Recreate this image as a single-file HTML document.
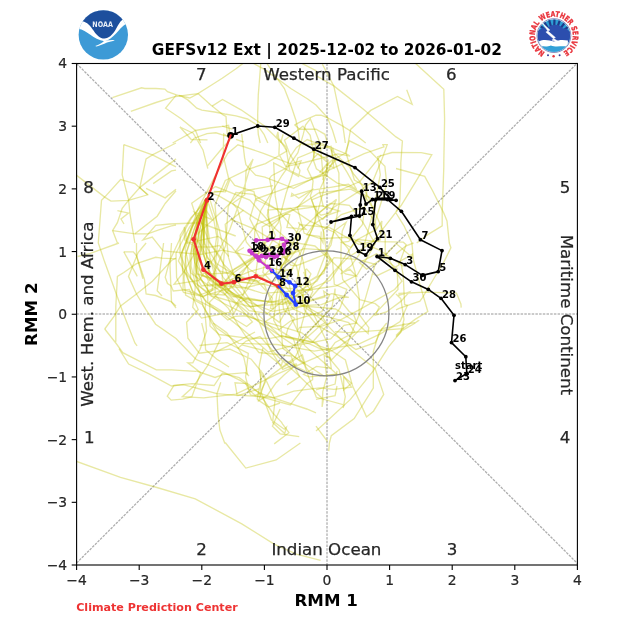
<!DOCTYPE html>
<html><head><meta charset="utf-8"><title>GEFSv12 Ext RMM</title>
<style>html,body{margin:0;padding:0;background:#fff;}svg{display:block;}</style>
</head><body><svg width="643" height="628" viewBox="0 0 643 628"><line x1="76.6" y1="563.0" x2="577.4" y2="63.0" stroke="#aeaeae" stroke-width="1.3" stroke-dasharray="2.6 1.1" fill="none"/>
<line x1="76.6" y1="63.6" x2="577.4" y2="563.4" stroke="#aeaeae" stroke-width="1.3" stroke-dasharray="2.6 1.1" fill="none"/>
<line x1="76.6" y1="314.0" x2="577.4" y2="314.0" stroke="#8a8a8a" stroke-width="0.9" stroke-dasharray="2.5 1.2" fill="none"/>
<line x1="327.0" y1="63.5" x2="327.0" y2="565.0" stroke="#8a8a8a" stroke-width="0.9" stroke-dasharray="2.5 1.2" fill="none"/>
<defs><clipPath id="ax"><rect x="76.6" y="63.5" width="500.79999999999995" height="501.5"/></clipPath></defs>
<g clip-path="url(#ax)" stroke="#bfbf00" stroke-opacity="0.36" stroke-width="1.35" fill="none"><path d="M112.3,97.6 L141.6,87.8 L144.8,88.5 L156.0,88.5 L164.9,89.1 L167.5,91.7 L176.4,94.8 L181.5,96.1 L187.8,99.9 L196.8,108.2 L201.9,110.1 L214.6,112.0 L224.8,114.0 L236.0,115.9 L247.5,119.0 L253.8,122.9 L257.7,125.4 L264.0,134.3 L267.8,143.0"/><path d="M130.8,111.4 L156.0,102.5 L173.8,96.8 L187.8,94.8 L198.0,93.6 L212.0,84.7 L222.2,78.3 L236.0,68.7 L243.6,63.0"/><path d="M176.4,94.8 L165.6,108.2 L181.5,119.0 L195.5,130.5 L200.6,143.0"/><path d="M178.9,95.5 L189.8,98.0 L198.0,93.6"/><path d="M198.0,93.6 L210.8,105.0 L223.5,115.2 L226.0,116.5 L226.7,126.7 L227.3,134.0"/><path d="M172.6,143.0 L195.5,130.5 L209.5,128.0 L224.8,126.1 L228.6,125.4 L229.9,134.0"/><path d="M190.4,143.0 L194.2,138.2 L207.0,133.7 L215.9,132.8 L224.8,135.6 L229.0,136.3"/><path d="M222.2,126.1 L232.4,129.2"/><path d="M260.8,63.0 L259.6,78.3 L258.3,94.8 L257.7,114.0 L257.7,125.4 L258.3,134.3 L260.2,143.0"/><path d="M252.6,63.0 L266.6,70.6 L278.0,79.6 L284.4,88.5 L290.8,105.0 L295.9,120.3 L298.4,131.8 L299.7,143.0"/><path d="M266.6,63.0 L276.8,78.3 L290.8,88.5 L307.3,98.7 L316.0,105.0 L327.5,117.8 L341.5,125.4 L351.7,131.8 L365.7,143.0"/><path d="M294.6,124.8 L301.0,121.6 L316.0,115.2 L321.1,115.2 L327.5,117.8 L332.6,130.5 L336.4,143.0"/><path d="M294.6,124.8 L299.7,129.2 L316.0,129.2 L324.9,134.3 L327.5,143.0"/><path d="M236.0,139.4 L243.6,142.0"/><path d="M283.1,134.3 L280.6,143.0"/><path d="M301.0,63.0 L316.0,70.6 L316.0,75.7 L333.8,85.9 L363.1,108.9 L396.0,136.9 L402.4,141.0 L400.8,163.0 L400.8,174.8 L400.0,198.7 L399.2,206.7 L396.0,211.5"/><path d="M322.4,64.3 L333.8,85.9 L338.9,110.1 L342.8,125.4 L345.3,143.0"/><path d="M415.1,63.0 L443.8,89.3 L444.6,118.7 L443.8,163.0 L443.8,166.9 L443.0,190.8 L442.2,211.5 L442.2,225.8 L427.8,234.6 L416.7,243.0"/><path d="M396.0,168.5 L424.7,176.4 L432.6,190.8 L443.8,213.1 L447.0,221.0 L449.3,243.0 L450.9,247.8 L443.8,262.1 L434.2,278.0 L422.3,297.9 L419.9,301.1 L399.2,308.3 L396.0,309.9"/><path d="M396.0,213.0 L404.0,225.8 L411.9,243.0 L413.5,260.5 L419.9,284.4 L427.8,311.5 L415.1,319.4 L402.4,329.0 L396.0,335.4"/><path d="M396.0,254.1 L405.6,246.2 L413.5,243.0"/><path d="M396.0,294.0 L400.8,298.7 L404.0,319.4 L400.8,332.2 L396.0,337.0"/><path d="M415.4,323.0 L402.0,330.6 L388.6,346.9 L373.3,370.8 L350.4,399.4 L323.6,424.3 L316.0,431.0"/><path d="M403.9,323.0 L403.0,328.7 L348.5,332.6 L335.1,331.6"/><path d="M386.7,323.0 L379.0,332.6 L373.3,351.7 L373.3,370.8 L373.3,388.0 L354.2,418.5 L331.3,435.7 L329.4,443.0 L328.7,451.1"/><path d="M343.7,376.5 L351.4,383.2 L343.7,389.9 L343.7,376.5"/><path d="M316.0,389.9 L335.1,384.1 L337.0,370.8"/><path d="M316.0,399.4 L335.1,395.6 L337.0,386.0"/><path d="M316.0,426.2 L327.5,441.5"/><path d="M196.0,359.3 L213.2,367.0 L226.6,373.6 L240.0,380.3 L251.4,388.0 L261.0,393.7 L283.9,401.3 L306.8,409.0 L316.0,412.8"/><path d="M196.0,370.8 L215.1,377.5 L222.8,374.6 L245.7,372.7 L249.0,376.0"/><path d="M196.0,388.0 L217.0,393.7 L238.0,395.6 L249.5,391.8 L259.0,388.9"/><path d="M220.8,382.2 L217.0,393.7 L218.0,414.7 L219.9,430.0 L224.7,443.0 L225.6,443.0 L245.8,468.1 L276.2,460.0 L300.4,443.0"/><path d="M280.1,409.0 L272.4,426.2 L280.1,433.8 L299.2,436.7"/><path d="M201.7,323.0 L204.6,334.5 L205.6,349.8 L217.0,359.3 L229.0,367.0"/><path d="M213.2,323.0 L226.6,332.6 L238.0,347.8 L243.8,357.4 L247.6,374.6"/><path d="M214.2,352.6 L240.0,340.2 L255.0,332.0"/><path d="M257.1,399.4 L268.6,407.1 L280.0,403.0"/><path d="M262.9,347.8 L259.0,367.0 L261.0,380.3 L257.1,399.4"/><path d="M123.8,144.6 L152.4,154.9 L176.0,166.9"/><path d="M123.8,144.6 L122.2,174.8 L128.5,199.5 L130.1,214.7 L134.9,243.0"/><path d="M176.0,143.0 L152.4,154.9 L146.1,158.9 L139.7,187.6 L128.5,200.3"/><path d="M76.0,174.8 L104.7,197.1 L111.0,201.1 L128.5,200.3 L147.7,194.8 L139.7,187.6"/><path d="M104.7,197.1 L120.6,179.6 L134.9,183.6 L147.7,194.8"/><path d="M104.7,197.1 L101.5,200.3 L98.3,243.0 L104.7,262.1 L115.8,292.4 L123.8,314.7 L134.9,343.0 L137.1,345.9"/><path d="M176.0,158.9 L139.7,187.6"/><path d="M153.2,183.6 L171.5,170.9 L176.0,170.1"/><path d="M146.1,188.4 L165.2,197.9 L176.0,189.2"/><path d="M128.5,200.3 L122.2,208.3 L117.4,222.6 L112.6,230.6 L117.4,243.0"/><path d="M117.4,210.7 L128.5,213.1 L121.0,219.0 L124.0,224.0"/><path d="M112.6,230.6 L134.9,233.8 L157.2,216.2 L165.2,203.5 L176.0,190.8"/><path d="M134.9,233.8 L147.7,233.8 L158.8,229.8 L171.5,225.8 L176.0,225.0"/><path d="M77.6,256.5 L90.3,253.4 L119.0,243.0"/><path d="M115.8,341.7 L115.8,306.7 L117.4,276.4 L123.8,272.5 L136.5,263.7 L155.6,257.3 L162.0,258.1 L176.0,258.9"/><path d="M123.8,251.8 L133.3,251.8 L136.5,255.7 L144.5,279.6 L146.1,294.0 L155.6,295.5 L171.5,301.9 L176.0,306.0"/><path d="M123.8,251.8 L137.3,276.4"/><path d="M136.5,243.0 L136.5,255.7 L142.9,278.8"/><path d="M146.1,243.0 L138.1,252.6 L128.5,276.4 L136.5,294.0 L146.1,309.9 L155.6,324.2 L176.0,338.5 L196.0,359.2"/><path d="M104.7,329.0 L114.2,316.2 L120.6,305.9 L136.5,294.0 L152.4,281.2 L171.5,260.5 L176.0,258.0"/><path d="M104.7,329.0 L115.8,343.0 L122.8,352.6 L156.3,369.8 L171.5,369.8 L196.0,371.3"/><path d="M119.0,348.7 L128.6,364.0 L148.6,373.6 L171.5,386.0 L183.0,384.7 L196.0,387.9"/><path d="M163.6,243.0 L157.2,290.8 L162.0,296.0"/><path d="M171.5,243.0 L170.0,265.3 L171.5,301.9 L176.0,308.0"/><path d="M76.0,461.2 L120.5,477.4 L156.9,487.5 L195.3,498.8 L241.8,523.9 L274.1,544.1 L296.4,554.2 L320.6,560.3"/><path d="M206.3,201.0 L198.8,224.4 L194.4,248.7 L204.3,272.6 L218.1,285.9 L246.6,299.8 L286.3,302.3 L312.4,299.7 L331.8,293.6 L348.8,297.4 L339.9,297.3 L321.3,304.6 L301.2,305.7 L284.1,284.6 L269.9,269.5 L246.4,242.3 L237.6,209.1 L232.7,203.3 L244.7,194.9 L246.1,170.2 L253.1,159.1 L249.8,168.4 L240.6,199.5 L229.7,229.8 L218.3,251.7 L199.0,280.5 L174.0,284.4 L183.7,272.0 L193.4,255.4 L196.6,234.9 L221.2,212.1 L241.3,191.5 L273.1,185.6"/><path d="M206.2,198.0 L190.8,229.9 L180.8,254.6 L183.3,275.7 L183.0,289.5 L199.4,295.1 L209.2,291.6 L233.0,281.4 L264.3,284.7 L272.8,305.2 L273.3,308.8 L270.5,308.5 L272.4,298.0 L256.6,280.3 L237.0,277.4 L224.3,265.1 L209.0,241.9 L201.1,220.8 L194.5,212.4 L212.2,219.7 L204.9,208.5 L197.3,217.7 L195.0,236.3 L216.0,271.0 L215.0,295.3 L228.4,308.3 L238.1,324.8 L245.5,335.9 L258.9,352.5 L291.1,356.0 L295.9,369.4 L299.6,376.5 L287.1,384.9"/><path d="M205.7,201.0 L204.0,229.3 L203.4,253.6 L209.2,272.0 L229.7,290.3 L249.1,310.6 L267.7,313.4 L286.9,297.4 L317.0,281.0 L330.6,258.9 L326.3,250.1 L303.9,248.6 L284.0,257.3 L296.2,265.1 L300.7,283.4 L304.5,310.0 L318.5,327.2 L300.5,343.3 L268.2,352.1 L244.7,331.1 L220.7,311.8 L195.8,299.3 L184.5,270.9 L178.4,260.9 L187.2,239.4 L198.2,208.6 L214.1,177.9 L227.7,153.5 L237.9,144.8 L263.5,153.3 L290.7,163.8 L301.1,160.8 L297.8,168.5"/><path d="M207.9,199.7 L197.0,224.7 L194.0,250.2 L199.3,276.3 L211.4,295.7 L248.8,306.5 L305.5,302.4 L324.9,297.0 L323.7,291.2 L329.6,294.9 L321.8,311.7 L290.5,321.0 L278.9,329.8 L263.0,323.2 L277.5,313.6 L303.8,305.8 L338.9,266.0 L355.4,240.7 L375.5,229.8 L374.1,219.8 L363.7,207.3 L341.3,214.6 L323.5,230.1 L323.0,242.8 L319.5,236.3 L306.8,234.6 L313.7,224.2 L327.3,215.4 L339.4,211.0 L322.0,205.8 L291.9,210.1 L256.4,224.4 L235.2,252.0"/><path d="M206.9,202.6 L206.8,220.5 L206.8,241.3 L206.6,259.5 L208.6,268.8 L210.5,273.9 L228.0,273.0 L258.3,253.7 L284.7,242.1 L292.2,251.1 L280.1,268.8 L281.3,285.7 L288.6,301.6 L294.3,306.7 L287.5,277.1 L292.4,269.1 L250.3,277.8 L242.9,294.5 L234.1,296.4 L221.1,281.3 L208.0,277.0 L197.0,273.9 L192.9,251.2 L199.1,238.0 L197.0,219.6 L191.7,203.3 L215.5,186.5 L249.8,200.1 L275.3,228.8 L297.4,248.1 L302.8,259.6 L306.4,279.7 L303.7,271.8"/><path d="M208.2,199.6 L201.3,223.6 L196.0,245.7 L197.1,272.7 L210.3,294.0 L224.2,295.0 L227.7,291.4 L239.2,273.8 L254.3,259.4 L254.7,231.9 L260.8,210.4 L281.9,175.5 L297.9,152.6 L303.3,134.2 L305.5,125.0 L310.3,118.8 L320.2,143.6 L324.2,188.3 L313.7,226.2 L294.0,265.7 L280.4,286.3 L283.7,309.9 L294.7,318.5 L287.9,328.6 L285.8,336.4 L312.6,341.9 L329.1,323.3 L340.1,308.0 L346.8,289.5 L334.3,284.4 L332.5,260.4 L320.6,248.8 L321.2,231.4"/><path d="M207.8,201.2 L201.8,231.5 L200.4,259.2 L209.2,283.2 L225.2,294.6 L239.1,306.7 L252.4,321.8 L246.6,326.5 L232.9,318.0 L207.8,302.7 L207.4,283.1 L213.2,275.0 L225.6,245.7 L228.2,206.8 L235.9,192.5 L253.2,194.4 L277.3,209.7 L296.3,231.5 L298.3,249.4 L287.9,255.3 L282.4,274.7 L276.7,294.3 L273.7,320.4 L279.4,330.4 L293.3,338.6 L300.3,359.9 L304.1,364.2 L282.8,348.3 L278.7,301.5 L286.4,259.3 L278.4,243.8 L254.5,229.1 L230.4,219.2"/><path d="M205.2,199.2 L204.1,225.5 L203.2,251.6 L209.0,273.8 L225.7,288.2 L244.1,300.5 L272.6,311.3 L301.1,306.0 L321.2,307.5 L335.6,309.0 L356.3,322.8 L368.1,333.5 L368.8,327.7 L359.1,314.2 L359.3,298.7 L355.0,271.9 L348.2,248.7 L335.2,232.7 L310.3,221.4 L290.5,208.1 L267.3,210.2 L268.2,210.0 L270.5,238.8 L250.1,255.8 L222.9,250.2 L200.2,254.5 L163.1,250.8 L152.2,237.0 L143.0,239.8 L155.7,225.4 L169.7,224.0 L200.0,222.8 L235.7,236.0"/><path d="M205.1,199.8 L207.3,231.5 L209.9,257.4 L215.9,280.2 L235.3,301.9 L268.2,329.6 L294.0,356.6 L323.5,375.9 L336.4,373.8 L327.7,366.1 L304.7,345.7 L291.4,318.1 L275.9,274.3 L281.1,227.5 L275.2,195.9 L273.7,162.8 L289.0,170.9 L298.6,176.5 L300.0,170.3 L289.9,154.4 L284.5,140.2 L302.9,126.1 L310.2,135.4 L313.3,151.5 L328.2,160.2 L325.6,175.1 L307.1,178.5 L289.7,170.7 L285.9,146.9 L264.2,125.8 L241.0,109.8 L222.5,99.5 L212.1,106.1"/><path d="M208.7,198.4 L199.6,230.2 L195.4,254.5 L193.8,272.5 L201.6,286.0 L223.4,283.2 L234.3,269.4 L265.0,252.4 L290.3,241.9 L314.9,246.0 L345.5,274.0 L356.3,276.2 L349.8,269.2 L340.7,274.0 L351.1,265.8 L363.0,249.2 L367.5,233.0 L376.1,201.1 L349.8,186.9 L337.3,183.1 L316.4,168.8 L313.5,160.6 L313.8,149.5 L314.0,157.4 L307.5,169.2 L313.1,180.9 L312.2,189.3 L297.4,207.6 L304.2,233.3 L320.4,238.6 L348.4,237.3 L379.5,250.1 L403.6,266.5"/><path d="M205.4,201.4 L197.1,229.0 L190.0,255.2 L190.6,278.5 L205.0,300.6 L227.8,319.9 L235.1,316.3 L245.0,315.8 L278.8,325.9 L301.5,332.7 L317.6,345.4 L329.9,349.5 L345.4,360.0 L352.6,386.1 L366.5,416.9 L373.5,411.2 L383.7,394.4 L375.1,368.6 L351.6,350.2 L322.1,319.9 L287.3,293.9 L249.1,269.0 L231.6,246.8 L218.3,236.4 L186.9,243.2 L185.0,228.5 L184.3,226.9 L184.3,234.6 L184.7,239.9 L195.2,246.8 L211.2,247.0 L219.6,245.5 L228.9,256.5"/><path d="M208.4,199.1 L192.8,226.1 L185.1,249.1 L190.9,273.0 L209.3,286.0 L231.9,283.8 L262.9,293.4 L311.8,289.5 L336.4,285.8 L357.2,275.1 L375.1,243.7 L362.8,222.2 L349.4,205.4 L342.4,204.5 L330.0,203.5 L315.7,215.5 L316.8,214.9 L322.8,219.3 L333.1,207.8 L355.8,193.4 L372.5,182.0 L382.3,158.2 L387.2,144.7 L382.9,144.6 L383.9,146.9 L364.2,153.6 L329.0,170.1 L293.5,188.3 L264.9,177.2 L255.6,175.2 L245.9,164.7 L244.6,157.7 L241.7,134.0"/><path d="M207.1,201.6 L205.2,223.1 L203.0,243.8 L195.6,266.2 L197.8,285.2 L210.2,295.5 L224.0,303.5 L254.1,318.6 L294.6,345.9 L330.6,338.9 L344.1,325.3 L356.8,323.0 L353.3,313.8 L349.4,311.8 L334.9,294.0 L335.1,288.6 L332.1,306.8 L307.2,333.5 L295.0,357.5 L265.2,379.9 L258.7,400.7 L266.9,395.9 L276.1,382.7 L284.3,374.7 L296.5,364.6 L296.1,363.9 L282.7,369.3 L270.3,349.6 L250.9,301.4 L234.3,276.6 L228.4,257.1 L225.2,224.2 L243.5,210.1"/><path d="M208.5,200.2 L189.3,227.7 L176.0,253.3 L176.6,277.7 L183.5,292.5 L201.8,296.4 L232.7,287.3 L251.8,259.6 L265.2,253.7 L275.3,235.8 L267.3,215.4 L269.9,199.6 L272.3,192.3 L269.5,178.4 L271.6,175.7 L285.8,168.3 L290.4,156.3 L296.5,147.4 L307.2,139.5 L330.6,148.7 L338.9,173.0 L339.0,205.2 L333.3,234.1 L317.2,276.1 L307.7,282.1 L323.9,273.4 L327.1,259.0 L323.9,232.5 L311.6,199.8 L324.2,194.8 L341.2,189.5 L359.9,181.5 L381.3,154.8"/><path d="M206.7,199.9 L203.0,220.2 L203.6,238.7 L207.0,257.4 L219.3,270.8 L243.9,277.4 L258.7,281.5 L269.8,269.5 L271.4,259.4 L266.6,255.1 L262.8,272.3 L282.1,293.3 L293.3,309.0 L302.9,313.3 L327.0,316.6 L348.7,322.6 L354.8,332.1 L335.2,342.4 L329.2,350.7 L319.9,348.5 L308.3,343.5 L282.3,336.0 L270.2,338.3 L247.3,338.2 L219.1,334.5 L210.0,325.9 L209.7,302.0 L232.3,279.3 L233.2,281.0 L250.1,283.0 L247.4,267.2 L237.0,251.5 L244.0,247.5"/><path d="M207.9,200.6 L198.4,223.1 L191.7,245.9 L191.1,266.2 L194.7,281.2 L195.2,288.3 L192.7,307.3 L201.6,318.1 L229.4,312.3 L255.0,279.6 L260.3,239.8 L249.8,218.6 L255.7,199.1 L289.0,187.1 L319.6,176.7 L336.4,159.7 L332.8,148.5 L331.7,150.5 L349.8,167.6 L354.0,174.5 L359.8,181.6 L368.7,197.8 L372.1,206.0 L385.2,235.4 L385.2,253.8 L401.9,281.2 L394.6,289.5 L361.8,308.3 L341.0,319.6 L321.1,326.4 L299.7,327.3 L297.5,330.6 L296.5,300.8"/><path d="M206.6,200.4 L202.0,231.8 L198.3,258.9 L209.1,278.3 L232.6,296.5 L269.8,302.3 L305.7,294.3 L319.1,276.5 L334.1,257.6 L356.8,259.4 L375.2,264.3 L364.5,301.6 L346.7,345.2 L338.1,353.0 L331.5,360.0 L330.1,357.6 L324.2,355.5 L326.6,377.3 L322.8,391.7 L322.1,407.0 L323.4,399.6 L297.9,374.8 L278.2,356.8 L260.0,336.6 L246.1,341.1 L237.7,348.5 L241.8,344.9 L262.5,350.2 L281.4,365.5 L282.8,360.1 L291.5,362.7 L295.2,366.4 L305.3,371.0"/><path d="M206.9,197.4 L191.2,227.9 L182.4,252.0 L182.6,270.6 L194.6,282.6 L206.7,291.6 L223.6,283.3 L234.3,272.2 L243.6,265.7 L260.3,251.4 L267.0,237.7 L278.2,222.9 L286.1,193.2 L297.8,158.0 L320.8,148.4 L331.1,146.3 L333.8,168.1 L326.7,164.0 L319.5,172.7 L331.7,160.4 L345.2,153.4 L349.4,140.8 L369.6,150.7 L384.9,166.4 L386.8,184.5 L375.4,220.7 L375.9,230.2 L381.9,221.0 L380.3,239.9 L371.6,241.8 L358.7,244.3 L329.3,227.5 L299.2,224.6"/><path d="M209.5,198.1 L218.6,227.3 L224.4,252.0 L222.2,278.3 L226.3,292.1 L242.6,298.5 L250.6,306.9 L266.9,303.6 L283.3,279.3 L281.1,266.0 L287.9,261.3 L295.4,251.2 L299.1,232.1 L320.0,212.2 L336.5,199.4 L330.5,212.8 L321.0,215.2 L314.8,209.0 L310.3,195.9 L312.6,189.6 L298.8,198.2 L291.9,193.3 L291.3,196.2 L310.4,190.3 L330.6,187.3 L348.3,184.3 L356.7,189.6 L347.1,172.4 L339.0,159.3 L333.1,160.7 L325.7,176.9 L319.4,190.5 L323.4,207.0"/><path d="M207.2,197.5 L202.5,221.5 L204.9,244.0 L216.9,263.8 L239.1,277.5 L272.1,286.4 L292.1,288.7 L310.2,282.4 L312.7,291.6 L306.9,303.0 L314.9,316.8 L327.9,344.1 L331.3,368.3 L316.5,366.4 L303.6,374.5 L308.9,376.9 L342.1,374.1 L351.5,387.2 L333.9,389.3 L319.5,387.9 L293.9,391.2 L273.7,397.7 L237.1,395.0 L235.0,382.8 L242.8,383.4 L246.6,383.1 L249.0,384.6 L258.9,393.0 L272.8,413.0 L281.6,422.4 L282.8,424.5 L288.9,432.7 L274.2,443.9"/><path d="M206.6,201.0 L195.1,226.3 L186.0,252.8 L184.1,278.5 L185.6,295.0 L202.5,304.6 L212.1,323.7 L220.7,338.4 L207.6,365.6 L193.0,387.1 L182.3,396.7 L203.7,397.8 L235.8,394.2 L277.1,374.2 L313.9,358.4 L337.2,348.1 L352.9,336.5 L373.0,315.9 L398.0,289.4 L397.1,268.3 L376.5,253.7 L365.7,259.4 L359.5,262.6 L366.6,269.1 L381.8,259.0 L396.2,243.6 L412.1,257.3 L412.3,254.3 L399.3,261.6 L398.6,265.4 L379.2,274.7 L376.9,275.7 L373.0,273.8"/><path d="M204.3,200.5 L206.9,221.6 L209.8,242.4 L221.1,258.2 L229.5,279.4 L244.8,297.5 L282.4,304.3 L301.9,292.4 L330.2,280.3 L340.1,265.5 L348.0,257.3 L371.0,243.4 L385.1,226.1 L401.1,205.5 L416.5,180.3 L431.8,154.8 L421.2,152.7 L392.0,152.5 L377.7,156.7 L380.3,174.7 L374.9,202.2 L378.9,195.5 L373.1,208.3 L365.1,196.6 L350.7,189.2 L318.7,193.0 L290.4,211.6 L262.2,227.0 L262.9,241.8 L273.6,254.5 L291.2,253.4 L286.9,253.9 L277.5,247.2"/><path d="M206.1,198.3 L194.2,229.8 L185.3,256.4 L186.9,275.8 L192.3,290.8 L203.2,297.3 L212.1,290.5 L214.6,271.6 L218.0,240.3 L215.0,204.7 L225.3,180.4 L247.9,169.3 L265.5,163.6 L286.8,151.1 L280.3,140.4 L276.8,136.2 L277.9,131.8 L279.3,144.4 L278.9,154.4 L285.9,166.6 L304.6,162.5 L337.9,153.9 L350.1,156.2 L347.7,154.5 L320.7,143.2 L312.9,144.0 L302.2,144.6 L315.8,144.7 L313.4,158.2 L318.0,153.7 L327.8,162.9 L326.3,170.8 L322.8,180.1"/><path d="M206.2,198.0 L202.5,227.4 L197.4,251.5 L195.6,277.2 L203.1,306.3 L216.4,327.7 L238.7,343.4 L276.9,344.5 L314.2,351.1 L358.8,344.0 L380.4,333.9 L400.1,321.5 L407.4,305.5 L404.6,304.5 L403.2,275.4 L401.1,263.7 L399.7,262.6 L406.2,244.7 L403.3,242.2 L378.9,241.7 L357.7,239.5 L350.9,247.5 L341.7,242.3 L348.8,241.4 L362.5,224.4 L367.4,187.4 L354.4,180.0 L346.2,153.6 L350.6,129.4 L370.7,110.4 L397.5,96.5 L412.2,104.3 L406.7,89.7"/><path d="M207.2,199.5 L213.6,218.7 L216.7,236.2 L214.7,251.5 L214.2,261.2 L223.4,277.8 L246.7,303.5 L279.5,335.4 L316.7,343.2 L339.1,369.8 L345.3,396.6 L343.1,408.0 L344.1,404.9 L316.3,397.3 L308.6,376.7 L297.2,343.7 L301.8,324.4 L308.1,302.0 L295.8,287.8 L298.5,272.1 L304.4,248.5 L315.0,221.9 L316.1,206.3 L302.4,205.9 L285.0,209.8 L274.0,208.1 L256.7,200.0 L256.3,200.5 L253.9,191.5 L234.7,185.3 L230.0,179.2 L225.4,191.8 L214.1,191.4"/><path d="M207.3,197.1 L191.5,218.1 L179.6,239.5 L169.6,260.9 L165.2,277.3 L167.5,283.5 L171.0,285.8 L173.3,291.0 L189.4,289.4 L198.2,309.5 L186.6,322.3 L187.9,338.2 L199.3,353.2 L230.0,349.2 L251.2,359.2 L263.1,373.9 L275.1,399.5 L272.6,422.4 L284.7,433.6 L286.4,427.3 L284.3,429.2 L271.5,420.1 L260.5,390.3 L260.9,370.1 L259.8,372.0 L266.0,380.5 L259.9,393.5 L255.2,395.2 L249.0,389.9 L245.6,377.0 L248.3,353.4 L227.2,342.6 L199.4,345.5"/><path d="M207.4,200.9 L198.0,224.2 L193.0,244.1 L194.7,262.4 L202.7,274.7 L215.7,284.5 L243.7,288.1 L275.0,280.7 L291.5,247.4 L299.9,224.5 L298.3,222.3 L306.0,229.4 L286.9,227.5 L289.8,214.7 L285.7,214.0 L269.6,226.5 L254.6,217.9 L239.0,207.6 L218.5,195.6 L210.3,192.8 L223.5,191.0 L228.8,179.0 L223.2,155.8 L223.7,133.9 L231.1,138.7 L221.7,148.8 L207.3,166.1 L207.8,168.7 L203.0,149.9 L193.2,133.2 L179.9,127.0 L191.3,139.5 L207.5,139.9"/><path d="M207.3,200.1 L199.5,218.2 L193.4,238.4 L196.8,257.5 L201.6,275.7 L224.0,282.5 L249.4,271.7 L267.2,266.6 L280.6,270.2 L282.4,255.4 L290.8,265.1 L296.4,265.7 L324.9,254.5 L331.0,245.1 L333.9,231.3 L346.1,222.3 L342.3,230.9 L341.1,245.0 L340.9,264.7 L342.7,279.5 L359.8,299.6 L375.2,303.7 L379.2,307.0 L375.4,315.3 L386.5,312.0 L400.8,301.4 L409.4,291.9 L399.1,295.4 L399.0,293.5 L425.9,292.2 L456.4,293.1 L460.9,304.0 L461.2,307.6"/><path d="M207.2,199.9 L190.8,218.0 L180.2,235.1 L180.0,253.4 L187.1,272.0 L199.1,290.9 L205.8,301.0 L204.9,312.2 L206.6,331.1 L200.1,349.2 L192.8,362.8 L187.9,362.8 L200.7,372.7 L191.9,396.7 L182.7,399.2 L171.2,400.1 L167.3,396.1 L173.9,385.5 L192.1,383.6 L214.1,385.5 L222.3,373.2 L239.2,377.7 L245.4,382.2 L250.5,394.8 L261.4,396.9 L290.3,404.9 L307.2,383.4 L312.6,379.7 L312.5,372.2 L309.9,372.8 L305.7,366.8 L302.4,354.7 L281.6,368.2"/><path d="M206.3,199.5 L203.2,222.7 L200.8,248.1 L211.1,275.3 L228.2,298.5 L233.7,313.8 L238.1,305.6 L237.9,302.8 L247.7,298.3 L256.9,305.5 L262.5,310.0 L279.4,322.4 L293.3,297.9 L304.9,287.6 L310.9,273.8 L306.7,269.1 L305.7,269.4 L305.5,283.1 L310.7,290.2 L304.1,289.5 L301.9,303.4 L307.6,307.3 L320.8,314.7 L325.9,322.3 L319.0,326.2 L337.1,336.5 L355.9,349.5 L375.2,342.6 L382.1,328.5 L390.6,327.0 L415.9,322.4 L418.3,320.7 L417.5,320.5"/></g>
<circle cx="326.4" cy="313.3" r="62.5" stroke="#858585" stroke-width="1.3" fill="none"/>
<path d="M455,380.6 L466.8,373.5 L465.8,356.7 L451.5,342.6 L454,315.3 L441,298.3 L428.3,289.4 L411.5,281.8 L395,270.3 L377.1,256.5 L390.4,258.3 L405.2,264.6 L422.3,275.4 L438.2,271.6 L442,250.6 L420.4,239.7 L401.4,211.3 L387.5,199.5 L396.1,200.3 L372.5,199.5 L366,204.1 L361.7,191.2 L360.3,205 L359.5,216 L331,222 L351.5,216.5 L349.9,235.3 L358.5,251.4 L365.7,255 L377.6,238.7 L372.8,224.6 L375.5,199.8 L391,199.5 L379.9,187.4 L355,167.6 L313.8,149.2 L293.9,138.2 L274.8,127.3 L257.7,126 L230.6,135.3" stroke="#000" stroke-width="1.6" fill="none" stroke-linejoin="round"/>
<circle cx="455" cy="380.6" r="1.9" fill="#000"/>
<circle cx="466.8" cy="373.5" r="1.9" fill="#000"/>
<circle cx="465.8" cy="356.7" r="1.9" fill="#000"/>
<circle cx="451.5" cy="342.6" r="1.9" fill="#000"/>
<circle cx="454" cy="315.3" r="1.9" fill="#000"/>
<circle cx="441" cy="298.3" r="1.9" fill="#000"/>
<circle cx="428.3" cy="289.4" r="1.9" fill="#000"/>
<circle cx="411.5" cy="281.8" r="1.9" fill="#000"/>
<circle cx="395" cy="270.3" r="1.9" fill="#000"/>
<circle cx="377.1" cy="256.5" r="1.9" fill="#000"/>
<circle cx="390.4" cy="258.3" r="1.9" fill="#000"/>
<circle cx="405.2" cy="264.6" r="1.9" fill="#000"/>
<circle cx="422.3" cy="275.4" r="1.9" fill="#000"/>
<circle cx="438.2" cy="271.6" r="1.9" fill="#000"/>
<circle cx="442" cy="250.6" r="1.9" fill="#000"/>
<circle cx="420.4" cy="239.7" r="1.9" fill="#000"/>
<circle cx="401.4" cy="211.3" r="1.9" fill="#000"/>
<circle cx="387.5" cy="199.5" r="1.9" fill="#000"/>
<circle cx="396.1" cy="200.3" r="1.9" fill="#000"/>
<circle cx="372.5" cy="199.5" r="1.9" fill="#000"/>
<circle cx="366" cy="204.1" r="1.9" fill="#000"/>
<circle cx="361.7" cy="191.2" r="1.9" fill="#000"/>
<circle cx="360.3" cy="205" r="1.9" fill="#000"/>
<circle cx="359.5" cy="216" r="1.9" fill="#000"/>
<circle cx="331" cy="222" r="1.9" fill="#000"/>
<circle cx="351.5" cy="216.5" r="1.9" fill="#000"/>
<circle cx="349.9" cy="235.3" r="1.9" fill="#000"/>
<circle cx="358.5" cy="251.4" r="1.9" fill="#000"/>
<circle cx="365.7" cy="255" r="1.9" fill="#000"/>
<circle cx="377.6" cy="238.7" r="1.9" fill="#000"/>
<circle cx="372.8" cy="224.6" r="1.9" fill="#000"/>
<circle cx="375.5" cy="199.8" r="1.9" fill="#000"/>
<circle cx="391" cy="199.5" r="1.9" fill="#000"/>
<circle cx="379.9" cy="187.4" r="1.9" fill="#000"/>
<circle cx="355" cy="167.6" r="1.9" fill="#000"/>
<circle cx="313.8" cy="149.2" r="1.9" fill="#000"/>
<circle cx="293.9" cy="138.2" r="1.9" fill="#000"/>
<circle cx="274.8" cy="127.3" r="1.9" fill="#000"/>
<circle cx="257.7" cy="126" r="1.9" fill="#000"/>
<circle cx="230.6" cy="135.3" r="3.4" fill="#000"/>
<g font-family="DejaVu Sans, Liberation Sans, sans-serif" font-weight="bold" font-size="10" fill="#000"><text x="456.0" y="380.0">23</text><text x="467.8" y="372.9">24</text><text x="452.5" y="342.0">26</text><text x="442.0" y="297.7">28</text><text x="412.5" y="281.2">30</text><text x="378.1" y="255.9">1</text><text x="406.2" y="264.0">3</text><text x="439.2" y="271.0">5</text><text x="421.4" y="239.1">7</text><text x="388.5" y="198.9">9</text><text x="373.5" y="198.9">11</text><text x="362.7" y="190.6">13</text><text x="360.5" y="215.4">15</text><text x="352.5" y="215.9">17</text><text x="359.5" y="250.8">19</text><text x="378.6" y="238.1">21</text><text x="376.5" y="199.2">23</text><text x="380.9" y="186.8">25</text><text x="314.8" y="148.6">27</text><text x="275.8" y="126.7">29</text><text x="231.6" y="134.7">1</text><text x="455" y="368.7">start</text></g>
<path d="M230.6,135.3 L206.9,200.4 L193.6,239.3 L203.4,269.7 L221.5,283.7 L234,282.1 L255.8,276.3 L278.5,286.3" stroke="#f03030" stroke-width="2.1" fill="none" stroke-linejoin="round" stroke-linecap="round"/>
<circle cx="206.9" cy="200.4" r="2.4" fill="#f03030"/>
<circle cx="193.6" cy="239.3" r="2.4" fill="#f03030"/>
<circle cx="203.4" cy="269.7" r="2.4" fill="#f03030"/>
<circle cx="221.5" cy="283.7" r="2.4" fill="#f03030"/>
<circle cx="234" cy="282.1" r="2.4" fill="#f03030"/>
<circle cx="255.8" cy="276.3" r="2.4" fill="#f03030"/>
<circle cx="278.5" cy="286.3" r="2.4" fill="#f03030"/>
<path d="M278.5,286.3 L286.6,295 L295.9,304.6 L293.1,293.1 L295.2,285.9 L289.5,282.3 L278.7,277.3 L272,270.8" stroke="#2440ff" stroke-width="2.1" fill="none" stroke-linejoin="round" stroke-linecap="round"/>
<circle cx="286.6" cy="295" r="2.4" fill="#2440ff"/>
<circle cx="295.9" cy="304.6" r="2.4" fill="#2440ff"/>
<circle cx="293.1" cy="293.1" r="2.4" fill="#2440ff"/>
<circle cx="295.2" cy="285.9" r="2.4" fill="#2440ff"/>
<circle cx="289.5" cy="282.3" r="2.4" fill="#2440ff"/>
<circle cx="278.7" cy="277.3" r="2.4" fill="#2440ff"/>
<circle cx="272" cy="270.8" r="2.4" fill="#2440ff"/>
<path d="M272,270.8 L267.7,267 L259.1,260.3 L249.6,250.8 L256,256 L252,253 L258,257.5 L262,256 L266,257 L269,255 L274,257 L277,256 L283,253 L285,251 L284,245 L287,241.7 L282,238.8 L267.7,239.8 L256.2,240.3" stroke="#c93bca" stroke-width="2.1" fill="none" stroke-linejoin="round" stroke-linecap="round"/>
<circle cx="267.7" cy="267" r="2.4" fill="#c93bca"/>
<circle cx="259.1" cy="260.3" r="2.4" fill="#c93bca"/>
<circle cx="249.6" cy="250.8" r="2.4" fill="#c93bca"/>
<circle cx="256" cy="256" r="2.4" fill="#c93bca"/>
<circle cx="252" cy="253" r="2.4" fill="#c93bca"/>
<circle cx="258" cy="257.5" r="2.4" fill="#c93bca"/>
<circle cx="262" cy="256" r="2.4" fill="#c93bca"/>
<circle cx="266" cy="257" r="2.4" fill="#c93bca"/>
<circle cx="269" cy="255" r="2.4" fill="#c93bca"/>
<circle cx="274" cy="257" r="2.4" fill="#c93bca"/>
<circle cx="277" cy="256" r="2.4" fill="#c93bca"/>
<circle cx="283" cy="253" r="2.4" fill="#c93bca"/>
<circle cx="285" cy="251" r="2.4" fill="#c93bca"/>
<circle cx="284" cy="245" r="2.4" fill="#c93bca"/>
<circle cx="287" cy="241.7" r="2.4" fill="#c93bca"/>
<circle cx="282" cy="238.8" r="2.4" fill="#c93bca"/>
<circle cx="267.7" cy="239.8" r="2.4" fill="#c93bca"/>
<circle cx="256.2" cy="240.3" r="2.4" fill="#c93bca"/>
<g font-family="DejaVu Sans, Liberation Sans, sans-serif" font-weight="bold" font-size="10" fill="#000"><text x="207.5" y="199.8">2</text><text x="204.0" y="269.1">4</text><text x="234.6" y="281.5">6</text><text x="279.1" y="285.7">8</text><text x="296.5" y="304.0">10</text><text x="295.8" y="285.3">12</text><text x="279.3" y="276.7">14</text><text x="268.3" y="266.4">16</text><text x="250.2" y="250.2">18</text><text x="252.6" y="252.4">20</text><text x="262.6" y="255.4">22</text><text x="269.6" y="254.4">24</text><text x="277.6" y="255.4">26</text><text x="285.6" y="250.4">28</text><text x="287.6" y="241.1">30</text><text x="268.3" y="239.2">1</text></g>
<rect x="76.6" y="63.5" width="500.79999999999995" height="501.5" fill="none" stroke="#000" stroke-width="1.1"/>
<g stroke="#000" stroke-width="1.1"><line x1="76.60" y1="565.0" x2="76.60" y2="569.9"/><line x1="71.69999999999999" y1="565.01" x2="76.6" y2="565.01"/><line x1="139.20" y1="565.0" x2="139.20" y2="569.9"/><line x1="71.69999999999999" y1="502.32" x2="76.6" y2="502.32"/><line x1="201.80" y1="565.0" x2="201.80" y2="569.9"/><line x1="71.69999999999999" y1="439.63" x2="76.6" y2="439.63"/><line x1="264.40" y1="565.0" x2="264.40" y2="569.9"/><line x1="71.69999999999999" y1="376.94" x2="76.6" y2="376.94"/><line x1="327.00" y1="565.0" x2="327.00" y2="569.9"/><line x1="71.69999999999999" y1="314.25" x2="76.6" y2="314.25"/><line x1="389.60" y1="565.0" x2="389.60" y2="569.9"/><line x1="71.69999999999999" y1="251.56" x2="76.6" y2="251.56"/><line x1="452.20" y1="565.0" x2="452.20" y2="569.9"/><line x1="71.69999999999999" y1="188.87" x2="76.6" y2="188.87"/><line x1="514.80" y1="565.0" x2="514.80" y2="569.9"/><line x1="71.69999999999999" y1="126.18" x2="76.6" y2="126.18"/><line x1="577.40" y1="565.0" x2="577.40" y2="569.9"/><line x1="71.69999999999999" y1="63.49" x2="76.6" y2="63.49"/></g>
<g font-family="DejaVu Sans, Liberation Sans, sans-serif" font-size="13.89" fill="#262626" stroke="#262626" stroke-width="0.2"><text x="76.60" y="584.9" text-anchor="middle">−4</text><text x="67.2" y="570.01" text-anchor="end">−4</text><text x="139.20" y="584.9" text-anchor="middle">−3</text><text x="67.2" y="507.32" text-anchor="end">−3</text><text x="201.80" y="584.9" text-anchor="middle">−2</text><text x="67.2" y="444.63" text-anchor="end">−2</text><text x="264.40" y="584.9" text-anchor="middle">−1</text><text x="67.2" y="381.94" text-anchor="end">−1</text><text x="327.00" y="584.9" text-anchor="middle">0</text><text x="67.2" y="319.25" text-anchor="end">0</text><text x="389.60" y="584.9" text-anchor="middle">1</text><text x="67.2" y="256.56" text-anchor="end">1</text><text x="452.20" y="584.9" text-anchor="middle">2</text><text x="67.2" y="193.87" text-anchor="end">2</text><text x="514.80" y="584.9" text-anchor="middle">3</text><text x="67.2" y="131.18" text-anchor="end">3</text><text x="577.40" y="584.9" text-anchor="middle">4</text><text x="67.2" y="68.49" text-anchor="end">4</text></g>
<g font-family="DejaVu Sans, Liberation Sans, sans-serif" font-size="16.67" fill="#262626" stroke="#262626" stroke-width="0.25"><text x="201.3" y="79.9" text-anchor="middle">7</text><text x="451.3" y="79.9" text-anchor="middle">6</text><text x="88.5" y="193" text-anchor="middle">8</text><text x="565" y="193" text-anchor="middle">5</text><text x="89.25" y="442.9" text-anchor="middle">1</text><text x="565" y="442.9" text-anchor="middle">4</text><text x="201.5" y="555.4" text-anchor="middle">2</text><text x="452.0" y="555.4" text-anchor="middle">3</text><text x="326.6" y="79.9" text-anchor="middle">Western Pacific</text><text x="326.4" y="555.0" text-anchor="middle">Indian Ocean</text><text transform="translate(93,314.2) rotate(-90)" text-anchor="middle">West. Hem. and Africa</text><text transform="translate(560.5,314.9) rotate(90)" text-anchor="middle">Maritime Continent</text></g>
<text x="326.9" y="54.9" text-anchor="middle" font-family="DejaVu Sans, Liberation Sans, sans-serif" font-weight="bold" font-size="15.35" fill="#000">GEFSv12 Ext | 2025-12-02 to 2026-01-02</text>
<text x="326.2" y="605.7" text-anchor="middle" font-family="DejaVu Sans, Liberation Sans, sans-serif" font-weight="bold" font-size="16.67" fill="#000">RMM 1</text>
<text transform="translate(36.8,314.2) rotate(-90)" text-anchor="middle" font-family="DejaVu Sans, Liberation Sans, sans-serif" font-weight="bold" font-size="16.67" fill="#000">RMM 2</text>
<text x="76.2" y="610.8" font-family="DejaVu Sans, Liberation Sans, sans-serif" font-weight="bold" font-size="11.11" fill="#ee3333">Climate Prediction Center</text>
<g><circle cx="103.3" cy="34.85" r="24.7" fill="#3d9ad6"/><clipPath id="nc"><circle cx="103.3" cy="34.85" r="24.7"/></clipPath><g clip-path="url(#nc)"><path d="M76,28.6 C82,28.5 86,32 90,34.6 C94,37.5 99,40.6 104.6,41.2 C109,40.5 112,37.5 116,33.6 C119,30 122,26.5 126.5,23.5 L130,5 L76,5 Z" fill="#fff"/><path d="M82.6,21.2 C87,22 90.5,26 93.5,30.5 C96.5,35 100,38.6 104.4,38.6 C109,38.2 112,35 114.8,31 C117.5,26.5 119.5,21.5 122.8,19.4 L124,5 L80,5 Z" fill="#1d4f9d"/></g><path d="M95.2,45.9 C99,44.8 102,43.2 104,41 L106,40.6 C108.5,40.4 111.5,39.9 114.8,40.2 C112.5,41.2 109.5,41.5 107,42.6 C103.5,44.2 99.5,45.8 96.5,46.4 Z" fill="#fff"/><text x="102.6" y="26.9" text-anchor="middle" font-family="DejaVu Sans Condensed, DejaVu Sans, sans-serif" font-weight="bold" font-size="7.6" fill="#e8eef7" textLength="20.5" lengthAdjust="spacingAndGlyphs">NOAA</text></g>
<g><clipPath id="wc"><circle cx="553.9" cy="35.6" r="16.2"/></clipPath><circle cx="553.9" cy="35.6" r="16.9" fill="#fff" stroke="#3a3f8f" stroke-width="0.6"/><g clip-path="url(#wc)"><rect x="535.9" y="17.6" width="36" height="36" fill="#2d9fd5"/><line x1="553.9" y1="37.6" x2="525.7" y2="25.3" stroke="#1f3a8a" stroke-width="2.2"/><line x1="553.9" y1="37.6" x2="530.3" y2="17.1" stroke="#1f3a8a" stroke-width="2.2"/><line x1="553.9" y1="37.6" x2="537.1" y2="10.7" stroke="#1f3a8a" stroke-width="2.2"/><line x1="553.9" y1="37.6" x2="545.6" y2="6.8" stroke="#1f3a8a" stroke-width="2.2"/><line x1="553.9" y1="37.6" x2="554.9" y2="5.6" stroke="#1f3a8a" stroke-width="2.2"/><line x1="553.9" y1="37.6" x2="564.2" y2="7.4" stroke="#1f3a8a" stroke-width="2.2"/><line x1="553.9" y1="37.6" x2="572.4" y2="12.0" stroke="#1f3a8a" stroke-width="2.2"/><line x1="553.9" y1="37.6" x2="578.8" y2="18.8" stroke="#1f3a8a" stroke-width="2.2"/><line x1="553.9" y1="37.6" x2="582.7" y2="27.3" stroke="#1f3a8a" stroke-width="2.2"/><path d="M536.9,39.6 C536.9,29.6 541.9,26.6 547.9,27.6 C551.9,23.6 559.9,23.6 562.9,28.6 C567.9,27.6 571.9,32.6 570.9,39.6 C569.9,43.6 563.9,43.6 559.9,42.6 L541.9,42.6 Z" fill="#2c4eae"/><path d="M538.9,41.6 C543.9,38.6 549.9,40.6 553.9,41.6 C558.9,39.6 563.9,39.6 567.9,40.6 L567.9,46.6 C561.9,45.6 555.9,47.6 550.9,45.6 C545.9,47.6 541.9,45.6 538.9,46.6 Z" fill="#fff"/><rect x="535.9" y="47.1" width="36" height="8" fill="#34a0d8"/></g><path d="M541.4,22.1 L549.9,30.1 L547.9,31.1 L555.4,37.6 L553.4,38.6 L563.9,44.6 L551.9,40.1 L553.9,39.1 L545.9,32.1 L547.9,31.1 Z" fill="#fff" stroke="#fff" stroke-width="0.5"/><path id="nwsring" d="M545.03,52.29 A18.9,18.9 0 1 1 562.77,52.29" fill="none"/><text font-family="DejaVu Sans, sans-serif" font-weight="bold" font-size="7.6" fill="#e8333b" stroke="#e8333b" stroke-width="0.35"><textPath href="#nwsring" textLength="99" lengthAdjust="spacingAndGlyphs">NATIONAL WEATHER SERVICE</textPath></text><circle cx="548" cy="55.3" r="1" fill="#3a3f9a"/><circle cx="553.6" cy="56.2" r="1.2" fill="#e8333b"/><circle cx="559.6" cy="55.3" r="1" fill="#3a3f9a"/></g></svg></body></html>
